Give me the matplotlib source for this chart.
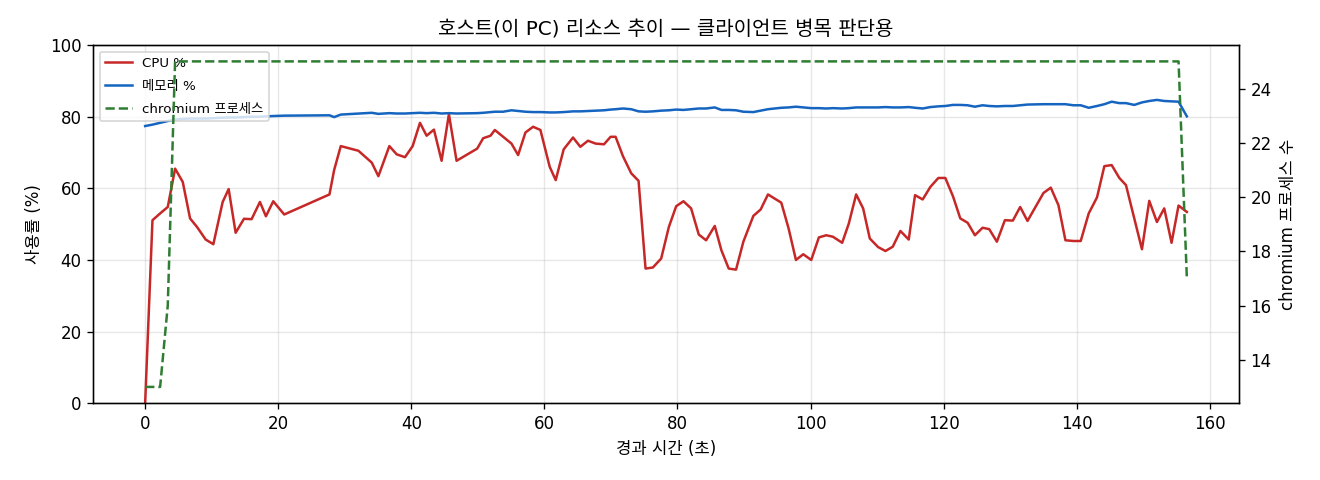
import matplotlib
matplotlib.use('Agg')
import matplotlib.pyplot as plt

# 라틴 문자/숫자는 DejaVu, 한글은 Noto Sans CJK KR 로 대체
plt.rcParams['font.family'] = ['DejaVu Sans', 'Noto Sans CJK KR']
plt.rcParams['axes.unicode_minus'] = False

# 경과 시간 (초)
t = [0, 1.1, 2.25, 3.4, 4.5, 5.65, 6.75, 7.8, 9.1, 10.25, 11.65, 12.55, 13.6,
     14.85, 16.0, 17.25, 18.15, 19.25, 20.9, 27.7, 28.4, 29.4, 32.05, 34.05,
     35.05, 36.7, 37.8, 39.05, 40.2, 41.3, 42.3, 43.4, 44.55, 45.65, 46.8,
     49.9, 50.8, 51.9, 52.55, 53.8, 55.05, 56.05, 57.15, 58.3, 59.4, 60.8,
     61.7, 62.9, 64.3, 65.4, 66.55, 67.7, 68.95, 69.95, 70.7, 71.8, 73.05,
     74.15, 75.2, 76.3, 77.55, 78.7, 79.8, 80.9, 82.05, 83.2, 84.3, 85.6,
     86.6, 87.7, 88.8, 89.9, 91.4, 92.5, 93.6, 95.6, 96.7, 97.8, 98.9, 100.1,
     101.25, 102.35, 103.35, 104.75, 105.75, 106.85, 107.9, 108.9, 110.15,
     111.25, 112.35, 113.5, 114.75, 115.7, 116.85, 118.0, 119.2, 120.25,
     121.4, 122.5, 123.6, 124.7, 125.85, 126.85, 128.0, 129.2, 130.4, 131.5,
     132.6, 135.0, 136.1, 137.25, 138.3, 139.5, 140.6, 141.8, 143.05, 144.15,
     145.25, 146.4, 147.4, 148.65, 149.8, 150.9, 152.05, 153.15, 154.25,
     155.3, 156.55]

cpu = [0, 51.1, 53.0, 54.8, 65.5, 61.8, 51.6, 49.2, 45.7, 44.4, 56.2, 59.8, 47.6,
       51.5, 51.4, 56.2, 52.2, 56.4, 52.7, 58.3, 65.1, 71.8, 70.5, 67.2,
       63.4, 71.8, 69.5, 68.7, 71.8, 78.3, 74.7, 76.4, 67.7, 80.7, 67.7,
       71.1, 74.0, 74.7, 76.3, 74.4, 72.5, 69.3, 75.6, 77.2, 76.3, 66.0,
       62.3, 70.9, 74.2, 71.6, 73.3, 72.5, 72.3, 74.4, 74.4, 69.0, 64.2,
       62.1, 37.6, 37.9, 40.4, 49.2, 55.0, 56.4, 54.4, 47.1, 45.5, 49.5,
       42.7, 37.6, 37.3, 45.1, 52.3, 54.1, 58.3, 56.0, 48.8, 40.0, 41.6, 40.0,
       46.3, 46.9, 46.5, 44.8, 50.2, 58.3, 54.4, 46.0, 43.6,
       42.5, 43.7, 48.1, 45.7, 58.1, 56.9, 60.4, 62.9, 62.9,
       57.8, 51.6, 50.4, 46.9, 49.0, 48.6, 45.1, 51.1, 51.0, 54.8,
       50.9, 58.7, 60.2, 55.3, 45.5, 45.3, 45.3, 53.0, 57.5, 66.2,
       66.5, 62.9, 60.9, 51.6, 43.0, 56.5, 50.6, 54.4, 44.8,
       55.2, 53.4]

mem = [77.4, 77.8, 78.3, 78.8, 79.2, 79.4, 79.5, 79.5, 79.5, 79.6, 79.7, 79.8, 79.8,
       79.9, 80.0, 80.0, 80.1, 80.2, 80.3, 80.4, 79.9, 80.6, 80.9, 81.1,
       80.8, 81.0, 80.9, 80.9, 81.0, 81.1, 81.0, 81.1, 80.9, 81.0, 80.9,
       81.0, 81.1, 81.3, 81.4, 81.4, 81.8, 81.6, 81.4, 81.3, 81.3, 81.2,
       81.2, 81.3, 81.5, 81.5, 81.6, 81.7, 81.8, 82.0, 82.1, 82.3, 82.1,
       81.5, 81.4, 81.5, 81.7, 81.8, 82.0, 81.9, 82.1, 82.3, 82.3, 82.6,
       81.9, 81.9, 81.8, 81.4, 81.3, 81.7, 82.1, 82.5, 82.6, 82.8, 82.6, 82.4,
       82.4, 82.3, 82.4, 82.3, 82.4, 82.6, 82.6, 82.6, 82.6,
       82.7, 82.6, 82.6, 82.7, 82.5, 82.3, 82.7, 82.9, 83.0,
       83.3, 83.3, 83.2, 82.8, 83.2, 83.0, 82.9, 83.0, 83.0, 83.2,
       83.4, 83.5, 83.5, 83.5, 83.5, 83.2, 83.2, 82.5, 83.0, 83.5,
       84.2, 83.8, 83.8, 83.3, 84.0, 84.4, 84.7, 84.4, 84.3,
       84.2, 80.1]

# chromium 프로세스 수: 시작 13 -> 16 -> 25 유지 -> 마지막 17
chromium = [13, 13, 13, 16] + [25] * 124 + [17]

fig, ax = plt.subplots(figsize=(11, 4), dpi=120)
fig.subplots_adjust(left=0.0705, right=0.9386, top=0.906, bottom=0.16)

l1, = ax.plot(t, cpu, color='#c62828', linewidth=1.5, label='CPU %')
l2, = ax.plot(t, mem, color='#1565c0', linewidth=1.5, label='메모리 %')
ax.set_ylim(0, 100)
ax.set_xlabel('경과 시간 (초)')
ax.set_ylabel('사용률 (%)')
ax.grid(True, alpha=0.3)

ax2 = ax.twinx()
l3, = ax2.plot(t, chromium, color='#2e7d32', linewidth=1.5, linestyle='--',
               label='chromium 프로세스')
ax2.set_ylabel('chromium 프로세스 수')

ax.set_title('호스트(이 PC) 리소스 추이 — 클라이언트 병목 판단용')
ax.legend(handles=[l1, l2, l3], loc='upper left', fontsize=8, labelspacing=0.75)

fig.savefig('out.png')
